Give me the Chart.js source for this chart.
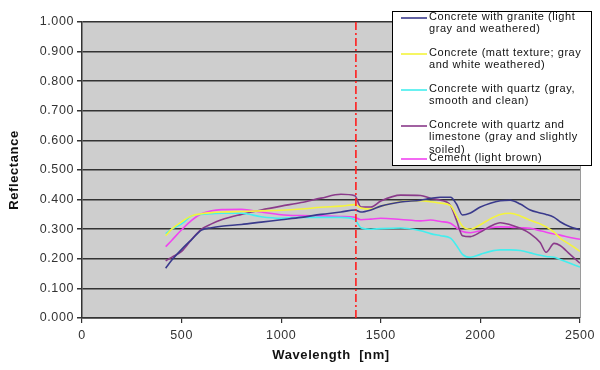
<!DOCTYPE html>
<html>
<head>
<meta charset="utf-8">
<title>Reflectance</title>
<script src="https://cdn.jsdelivr.net/npm/chart.js@4.4.0/dist/chart.umd.min.js"></script>
<style>
  html, body { margin: 0; padding: 0; background: #fff; }
  canvas { display: block; }
</style>
</head>
<body>
<canvas id="reflChart" width="600" height="370"></canvas>
<script>
// wavelength samples (nm), shared by all series
const wavelengths = [420, 450, 500, 550, 600, 650, 700, 800, 900, 1000, 1100, 1200, 1300, 1370, 1400, 1450, 1500,
    1600, 1700, 1750, 1800, 1850, 1880, 1910, 1950, 2000, 2050, 2100, 2150, 2200, 2250, 2300, 2330, 2370, 2400, 2450, 2500];

const granite = [0.168, 0.195, 0.232, 0.265, 0.297, 0.305, 0.310, 0.316, 0.324, 0.332, 0.340, 0.350, 0.358, 0.365, 0.358, 0.365, 0.378,
    0.392, 0.398, 0.404, 0.408, 0.408, 0.385, 0.348, 0.355, 0.375, 0.388, 0.396, 0.398, 0.385, 0.365, 0.355, 0.350, 0.340, 0.325, 0.308, 0.298];
const matt = [0.278, 0.300, 0.325, 0.345, 0.352, 0.356, 0.358, 0.360, 0.362, 0.364, 0.368, 0.374, 0.378, 0.383, 0.372, 0.368, 0.378,
    0.393, 0.396, 0.393, 0.388, 0.380, 0.345, 0.310, 0.300, 0.315, 0.335, 0.350, 0.354, 0.345, 0.330, 0.318, 0.308, 0.290, 0.270, 0.248, 0.225];
const quartz = [0.285, 0.300, 0.318, 0.345, 0.350, 0.352, 0.354, 0.354, 0.342, 0.337, 0.340, 0.340, 0.340, 0.332, 0.305, 0.300, 0.302,
    0.304, 0.295, 0.285, 0.278, 0.270, 0.245, 0.215, 0.205, 0.215, 0.225, 0.230, 0.230, 0.228, 0.220, 0.212, 0.208, 0.205, 0.198, 0.185, 0.172];
const limestone = [0.193, 0.205, 0.225, 0.265, 0.300, 0.318, 0.332, 0.350, 0.365, 0.378, 0.390, 0.405, 0.418, 0.413, 0.375, 0.375, 0.395,
    0.415, 0.414, 0.404, 0.398, 0.380, 0.330, 0.278, 0.275, 0.290, 0.310, 0.322, 0.315, 0.303, 0.285, 0.255, 0.222, 0.252, 0.245, 0.215, 0.185];
const cement = [0.241, 0.262, 0.298, 0.330, 0.352, 0.362, 0.366, 0.367, 0.358, 0.349, 0.346, 0.345, 0.343, 0.340, 0.332, 0.334, 0.337,
    0.333, 0.328, 0.331, 0.326, 0.320, 0.305, 0.292, 0.288, 0.295, 0.305, 0.308, 0.307, 0.305, 0.303, 0.295, 0.290, 0.284, 0.280, 0.272, 0.266];

// legend text, already wrapped like the original
const seriesNames = [
    ['Concrete with granite (light', 'gray and weathered)'],
    ['Concrete (matt texture; gray', 'and white weathered)'],
    ['Concrete with quartz (gray,', 'smooth and clean)'],
    ['Concrete with quartz and', 'limestone (gray and slightly', 'soiled)'],
    ['Cement (light brown)']
];
const seriesValues = [granite, matt, quartz, limestone, cement];
const seriesColors = ['#3a3a8c', '#f4f43c', '#44eeee', '#8a3a8a', '#f044f0'];

const markerWavelength = 1375;
const yTicksMax = 1.0;
const xTicksMax = 2500;

const toPoints = (vals) => wavelengths.map((w, i) => ({ x: w, y: vals[i] }));

const datasets = seriesValues.map((vals, i) => ({
    label: seriesNames[i].join(' '),
    data: toPoints(vals),
    borderColor: seriesColors[i],
    borderWidth: 1.6,
    pointRadius: 0,
    cubicInterpolationMode: 'monotone',
    fill: false
}));

// red dash-dot marker line
datasets.push({
    label: 'marker',
    data: [{ x: markerWavelength, y: 0 }, { x: markerWavelength, y: yTicksMax }],
    borderColor: '#ff1e1e',
    borderWidth: 1.6,
    borderDash: [8, 3, 2, 3],
    pointRadius: 0,
    order: -1
});

// gray plot area + letter spacing for the stretched look of the original
const plotBackground = {
    id: 'plotBackground',
    beforeDraw(chart) {
        const { ctx, chartArea: a } = chart;
        ctx.letterSpacing = '0.6px';
        ctx.save();
        ctx.fillStyle = '#cecece';
        ctx.fillRect(a.left, a.top, a.right - a.left, a.bottom - a.top);
        ctx.strokeStyle = '#9a9a9a';
        ctx.lineWidth = 1;
        ctx.beginPath();
        ctx.moveTo(a.right + 0.5, a.top);
        ctx.lineTo(a.right + 0.5, a.bottom);
        ctx.stroke();
        ctx.restore();
    }
};

// boxed legend overlapping the top right of the plot
const boxLegend = {
    id: 'boxLegend',
    afterDraw(chart) {
        const ctx = chart.ctx;
        const firstLineY = [17, 53, 89, 125, 158];
        const lineGap = 12.3;
        ctx.save();
        ctx.fillStyle = '#fff';
        ctx.fillRect(392, 11, 199, 154);
        ctx.strokeStyle = '#000';
        ctx.lineWidth = 1;
        ctx.strokeRect(392.5, 11.5, 199, 154);
        ctx.font = '11px "Liberation Sans", Arial, sans-serif';
        ctx.letterSpacing = '0.55px';
        ctx.textBaseline = 'middle';
        ctx.textAlign = 'left';
        seriesNames.forEach((lines, i) => {
            const y = firstLineY[i];
            ctx.strokeStyle = seriesColors[i];
            ctx.lineWidth = 1.6;
            ctx.beginPath();
            ctx.moveTo(401, y + 1);
            ctx.lineTo(427, y + 1);
            ctx.stroke();
            ctx.fillStyle = '#111';
            lines.forEach((t, j) => ctx.fillText(t, 429, y + j * lineGap));
        });
        ctx.restore();
    }
};

const ctx = document.getElementById('reflChart').getContext('2d');
new Chart(ctx, {
    type: 'line',
    data: { datasets },
    options: {
        responsive: false,
        animation: false,
        devicePixelRatio: 1,
        layout: { padding: { top: 22, right: 20, left: 0, bottom: 0 } },
        plugins: {
            legend: { display: false },
            tooltip: { enabled: false }
        },
        scales: {
            x: {
                type: 'linear',
                min: 0,
                max: xTicksMax,
                afterFit: (s) => { s.height = 52; },
                ticks: {
                    stepSize: 500,
                    padding: 5,
                    color: '#333',
                    maxRotation: 0,
                    font: { family: '"Liberation Sans", Arial, sans-serif', size: 12.5 },
                    callback: (v) => String(v)
                },
                grid: { drawOnChartArea: false, drawTicks: true, tickLength: 5, color: '#333', lineWidth: 1.2 },
                border: { color: '#333', width: 1.5 },
                title: {
                    display: true,
                    text: 'Wavelength  [nm]',
                    color: '#111',
                    padding: { top: 0, bottom: 7 },
                    font: { family: '"Liberation Sans", Arial, sans-serif', size: 13, weight: 'bold' }
                }
            },
            y: {
                min: 0,
                max: yTicksMax,
                afterFit: (s) => { s.width = 82; },
                ticks: {
                    stepSize: 0.1,
                    padding: 3,
                    color: '#333',
                    font: { family: '"Liberation Sans", Arial, sans-serif', size: 12.5 },
                    callback: (v) => v.toFixed(3)
                },
                grid: { color: '#333', lineWidth: 1.5, tickLength: 5 },
                border: { color: '#333', width: 1.5 },
                title: {
                    display: true,
                    text: 'Reflectance',
                    color: '#111',
                    padding: { top: 7, bottom: 0 },
                    font: { family: '"Liberation Sans", Arial, sans-serif', size: 13, weight: 'bold' }
                }
            }
        }
    },
    plugins: [plotBackground, boxLegend]
});
</script>
</body>
</html>
